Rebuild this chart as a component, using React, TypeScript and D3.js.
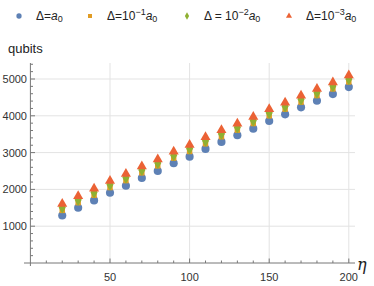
import React from "react";
import * as d3 from "d3";

// eta values
const etas = [20, 30, 40, 50, 60, 70, 80, 90, 100, 110, 120, 130, 140, 150, 160, 170, 180, 190, 200];

// qubit counts
const seriesA0 = [1290, 1500, 1700, 1910, 2100, 2310, 2500, 2710, 2890, 3100, 3290, 3470, 3650, 3860, 4040, 4230, 4410, 4590, 4780];
const seriesA1 = [1430, 1640, 1840, 2050, 2240, 2450, 2640, 2850, 3030, 3240, 3430, 3610, 3790, 4000, 4180, 4370, 4550, 4730, 4920];
const seriesA2 = [1510, 1720, 1920, 2130, 2320, 2530, 2720, 2930, 3110, 3320, 3510, 3690, 3870, 4080, 4260, 4450, 4630, 4810, 5000];
const seriesA3 = [1610, 1820, 2020, 2230, 2420, 2630, 2820, 3030, 3210, 3420, 3610, 3790, 3970, 4180, 4360, 4550, 4730, 4910, 5100];

const xTicks = [50, 100, 150, 200];
const yTicks = [1000, 2000, 3000, 4000, 5000];

const colors = ["#5E81B5", "#E19C24", "#8FB032", "#EB6235"];
const shapes = [d3.symbolCircle, d3.symbolSquare, d3.symbolDiamond, d3.symbolTriangle];

const W = 374;
const H = 286;

const App = () => {
  const x = d3.scaleLinear().domain([0, 200]).range([30.4, 348.8]);
  const y = d3.scaleLinear().domain([0, 5000]).range([263, 79]);

  const all = [seriesA0, seriesA1, seriesA2, seriesA3];
  const sizes = [52, 30, 44, 44];

  const xMinor = d3.range(10, 201, 10);
  const yMinor = d3.range(200, 5401, 200);

  const font = "'Liberation Sans', Arial, sans-serif";

  const legend = [
    { cx: 19, tx: 36, parts: ["Δ=", "a", "0"], sup: null },
    { cx: 90, tx: 107, parts: ["Δ=10", "a", "0"], sup: "−1" },
    { cx: 187, tx: 204, parts: ["Δ = 10", "a", "0"], sup: "−2" },
    { cx: 289, tx: 306, parts: ["Δ=10", "a", "0"], sup: "−3" },
  ];

  return (
    <svg width={W} height={H} style={{ position: "absolute", left: 0, top: 0 }} fontFamily={font}>
      {/* grid */}
      {xTicks.map((t) => (
        <line key={"gx" + t} x1={x(t)} x2={x(t)} y1={63} y2={263} stroke="#e3e3e3" strokeWidth={1} />
      ))}
      {yTicks.map((t) => (
        <line key={"gy" + t} x1={30.4} x2={355} y1={y(t)} y2={y(t)} stroke="#e3e3e3" strokeWidth={1} />
      ))}

      {/* axes */}
      <line x1={24} x2={355} y1={263} y2={263} stroke="#777" strokeWidth={1} />
      <line x1={30.4} x2={30.4} y1={63} y2={266} stroke="#777" strokeWidth={1} />

      {xMinor.map((t) => (
        <line key={"xt" + t} x1={x(t)} x2={x(t)} y1={263} y2={t % 50 === 0 ? 258.5 : 260.5} stroke="#777" />
      ))}
      {yMinor.map((t) => (
        <line key={"yt" + t} x1={30.4} x2={t % 1000 === 0 ? 35 : 33} y1={y(t)} y2={y(t)} stroke="#777" />
      ))}

      {xTicks.map((t) => (
        <text key={"xl" + t} x={x(t)} y={281} textAnchor="middle" fontSize={11} fill="#333">
          {t}
        </text>
      ))}
      {yTicks.map((t) => (
        <text key={"yl" + t} x={27} y={y(t) + 4} textAnchor="end" fontSize={11} fill="#333">
          {t}
        </text>
      ))}

      <text x={8} y={53} fontSize={13} fill="#222">qubits</text>
      <text x={357} y={270} fontSize={16} fontStyle="italic" fill="#222" fontFamily="'DejaVu Serif', serif">η</text>

      {/* points */}
      {all.map((s, i) => (
        <g key={"s" + i}>
          {s.map((v, j) => (
            <path
              key={j}
              transform={`translate(${x(etas[j])},${y(v)})`}
              d={d3.symbol().type(shapes[i]).size(sizes[i])() || ""}
              fill={colors[i]}
            />
          ))}
        </g>
      ))}

      {/* legend */}
      {legend.map((l, i) => (
        <g key={"lg" + i}>
          <path
            transform={`translate(${l.cx},${16})`}
            d={d3.symbol().type(shapes[i]).size(i === 0 ? 22 : 16)() || ""}
            fill={colors[i]}
          />
          <text x={l.tx} y={20} fontSize={12} fill="#222">
            <tspan>{l.parts[0]}</tspan>
            {l.sup && (
              <tspan dy={-5} fontSize={9}>
                {l.sup}
              </tspan>
            )}
            <tspan dy={l.sup ? 5 : 0} fontStyle="italic">{l.parts[1]}</tspan>
            <tspan dy={2} fontSize={9}>{l.parts[2]}</tspan>
          </text>
        </g>
      ))}
    </svg>
  );
};

export default App;
